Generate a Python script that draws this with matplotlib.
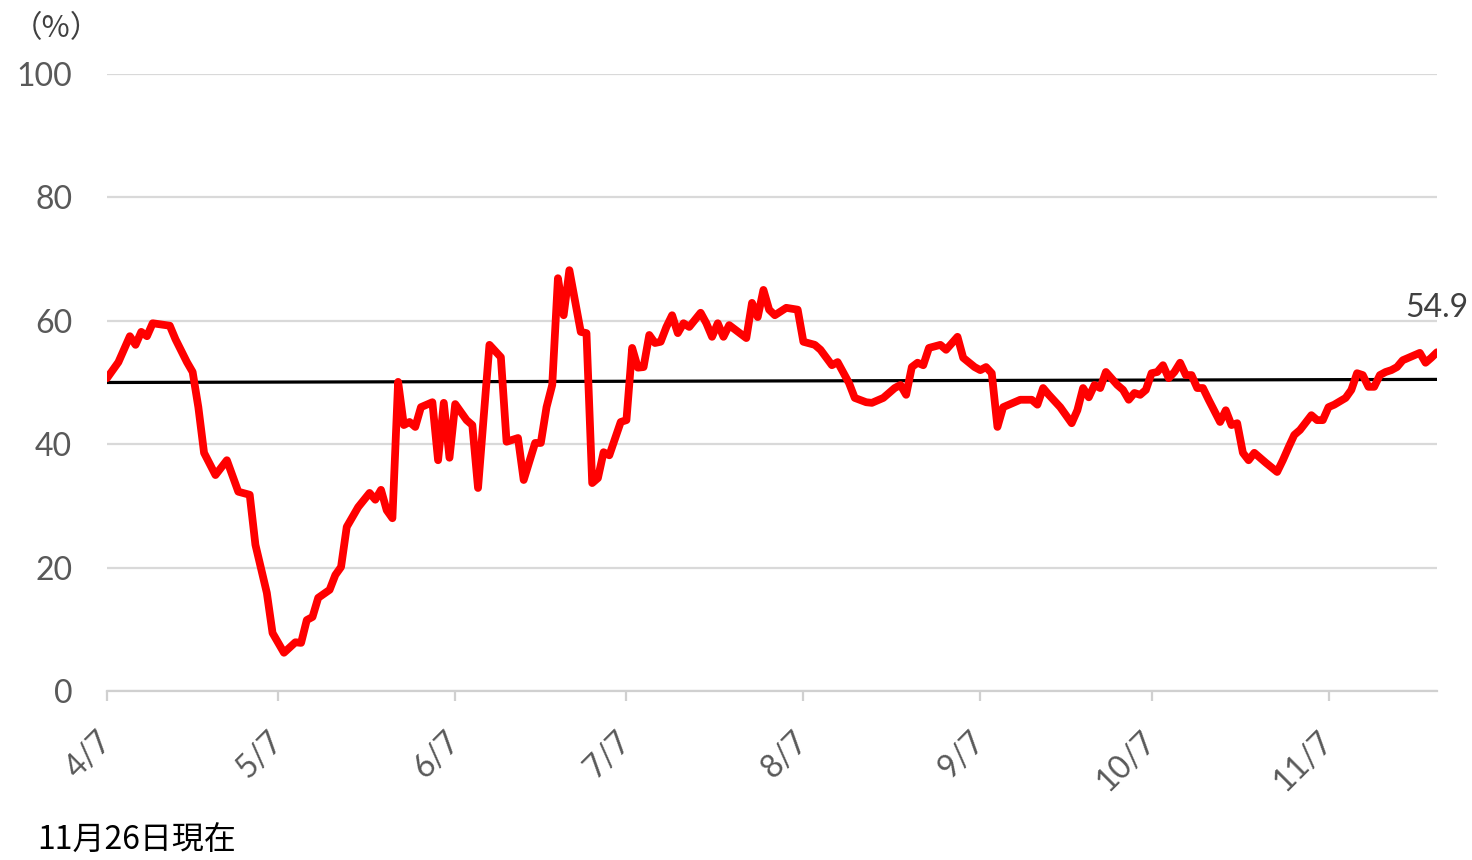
import matplotlib
matplotlib.use('Agg')
import matplotlib.pyplot as plt
import pandas as pd

# data (day offset from 4/7, value in %)
days = [0, 2, 4, 5, 6, 7, 8, 11, 12, 14, 15, 16, 17, 19, 21, 23, 25, 26, 28, 29,
        31, 33, 34, 35, 36, 37, 39, 40, 41, 42, 44, 46, 47, 48, 49, 50, 51, 52, 53, 54,
        55, 57, 58, 59, 60, 61, 63, 64, 65, 67, 69, 70, 72, 73, 75, 76, 77, 78, 79, 80,
        81, 83, 84, 85, 86, 87, 88, 90, 91, 92, 93, 94, 95, 96, 97, 98, 99, 100, 101, 102,
        104, 105, 106, 107, 108, 109, 112, 113, 114, 115, 116, 117, 119, 121, 122, 124, 125, 127, 128, 130,
        131, 133, 134, 136, 138, 139, 140, 141, 142, 143, 144, 146, 147, 149, 150, 152, 153, 154, 155, 156,
        157, 158, 160, 162, 163, 164, 165, 167, 169, 170, 171, 172, 173, 174, 175, 177, 178, 179, 180, 181,
        182, 183, 184, 185, 186, 187, 188, 189, 190, 191, 192, 193, 195, 196, 197, 198, 199, 200, 201, 203,
        205, 206, 207, 208, 209, 211, 212, 213, 214, 215, 217, 218, 219, 220, 221, 222, 223, 224, 225, 226,
        227, 228, 230, 231, 232, 233]
values = [50.7, 53.3, 57.5, 56.1, 58.2, 57.5, 59.6, 59.2, 57.0, 53.3, 51.7, 46.0, 38.6, 35.0, 37.4, 32.3, 31.8, 23.7, 15.9, 9.4,
          6.2, 7.9, 7.8, 11.5, 12.0, 15.1, 16.4, 18.8, 20.1, 26.6, 29.8, 32.1, 31.0, 32.6, 29.3, 28.0, 50.1, 43.1, 43.6, 42.8,
          46.0, 46.8, 37.4, 46.7, 37.8, 46.5, 43.9, 43.1, 32.9, 56.1, 54.1, 40.4, 41.0, 34.2, 40.2, 40.2, 46.0, 49.6, 66.9, 60.9,
          68.2, 58.2, 58.0, 33.7, 34.5, 38.7, 38.2, 43.6, 43.9, 55.6, 52.4, 52.5, 57.7, 56.4, 56.6, 59.0, 60.9, 58.0, 59.6, 59.0,
          61.3, 59.6, 57.4, 59.6, 57.4, 59.3, 57.2, 62.9, 60.6, 65.0, 61.8, 60.9, 62.1, 61.8, 56.6, 56.1, 55.3, 52.8, 53.3, 49.9,
          47.5, 46.8, 46.7, 47.5, 49.1, 49.6, 48.0, 52.5, 53.2, 52.8, 55.6, 56.1, 55.3, 57.4, 54.0, 52.5, 52.0, 52.5, 51.5, 42.8,
          46.0, 46.4, 47.2, 47.2, 46.4, 49.1, 48.0, 46.0, 43.4, 45.5, 49.1, 47.6, 49.6, 49.1, 51.7, 49.6, 48.8, 47.2, 48.3, 48.0,
          48.8, 51.5, 51.7, 52.8, 50.7, 51.7, 53.2, 51.2, 51.2, 49.1, 49.1, 47.2, 43.6, 45.5, 43.1, 43.4, 38.6, 37.4, 38.6, 37.0,
          35.5, 37.4, 39.5, 41.5, 42.3, 44.7, 43.9, 43.9, 46.0, 46.4, 47.5, 48.8, 51.5, 51.2, 49.3, 49.3, 51.2, 51.7, 52.0, 52.5,
          53.6, 54.0, 54.8, 53.2, 54.0, 54.9]
ref_days = [0, 233]
ref_values = [50.0, 50.5]
tick_labels = ['4/7', '5/7', '6/7', '7/7', '8/7', '9/7', '10/7', '11/7']
last_label = '54.9'

start = pd.Timestamp('2020-04-07')
dates = [start + pd.Timedelta(days=d) for d in days]
ref_dates = [start + pd.Timedelta(days=d) for d in ref_days]
tick_dates = [pd.Timestamp('2020-%s-%s' % tuple(t.split('/'))) for t in tick_labels]

plt.rcParams['font.family'] = ['Lato', 'DejaVu Sans']

fig = plt.figure(figsize=(14.72, 8.6), dpi=100)
ax = fig.add_axes([0.0727, 0.1965, 0.9035, 0.7175])

ax.plot(ref_dates, ref_values, color='black', lw=2.3, zorder=3)
ax.plot(dates, values, color='#ff0000', lw=5.6, solid_joinstyle='round',
        solid_capstyle='round', zorder=4)

ax.set_ylim(0, 100)
ax.set_yticks([0, 20, 40, 60, 80, 100])
ax.set_xlim(dates[0], dates[-1])
ax.set_xticks(tick_dates)
ax.set_xticklabels(tick_labels, rotation=45, ha='right', va='center',
                   rotation_mode='anchor')

ax.grid(True, axis='y', color='#d9d9d9', lw=1.6)
ax.set_axisbelow(True)
for s in ['top', 'right', 'left']:
    ax.spines[s].set_visible(False)
ax.spines['bottom'].set_color('#d0d0d0')
ax.spines['bottom'].set_linewidth(1.6)
ax.tick_params(axis='y', length=0, pad=25, labelsize=23, labelcolor='#595959')
ax.tick_params(axis='x', length=7, width=1.6, color='#d0d0d0', pad=26,
               labelsize=23, labelcolor='#595959')

ax.annotate(last_label, (dates[-1], values[-1]), xytext=(0, 21),
            textcoords='offset points', ha='center', va='bottom',
            fontsize=23, color='#404040')

fig.text(0.008, 0.967, '（%）', fontsize=22, color='#404040',
         family=['Noto Sans CJK JP', 'DejaVu Sans'], va='center')
fig.text(0.025, 0.004, '11月26日現在', fontsize=23, color='black',
         family=['Noto Sans CJK JP', 'DejaVu Sans'], va='bottom')

fig.savefig('out.png', dpi=100)
